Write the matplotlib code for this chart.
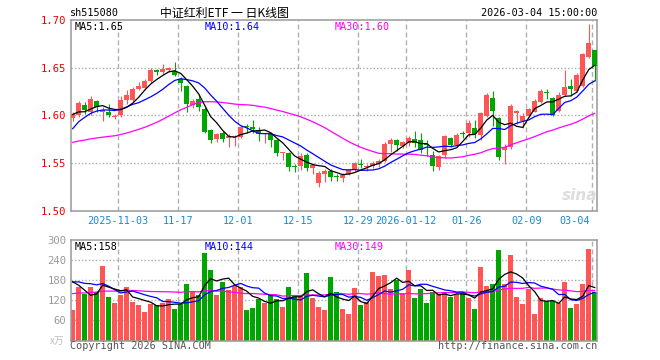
import matplotlib
matplotlib.use('Agg')
import matplotlib.pyplot as plt
import numpy as np

# ---------------- data ----------------
tick_labels = ['2025-11-03', '11-17', '12-01', '12-15', '12-29', '2026-01-12', '01-26', '02-09', '03-04']
tick_index = [8, 18, 28, 38, 48, 56, 66, 76, 87]

opens = [1.597, 1.600, 1.611, 1.603, 1.615, 1.603, 1.604, 1.598, 1.600, 1.616,
         1.616, 1.628, 1.629, 1.636, 1.648, 1.645, 1.6475, 1.647, 1.638, 1.631,
         1.611, 1.617, 1.607, 1.585, 1.575, 1.581, 1.576, 1.577, 1.577, 1.589,
         1.588, 1.585, 1.580, 1.580, 1.574, 1.560, 1.560, 1.547, 1.547, 1.558,
         1.545, 1.529, 1.539, 1.542, 1.536, 1.534, 1.539, 1.543, 1.549, 1.546,
         1.547, 1.549, 1.552, 1.570, 1.574, 1.568, 1.571, 1.575, 1.574, 1.570,
         1.558, 1.546, 1.558, 1.576, 1.569, 1.581, 1.581, 1.587, 1.579, 1.599,
         1.618, 1.597, 1.564, 1.567, 1.602, 1.594, 1.599, 1.604, 1.614, 1.6245,
         1.618, 1.605, 1.621, 1.631, 1.626, 1.631, 1.661, 1.669]
highs = [1.603, 1.615, 1.614, 1.620, 1.616, 1.609, 1.612, 1.601, 1.620, 1.627,
         1.630, 1.635, 1.638, 1.650, 1.649, 1.6535, 1.651, 1.656, 1.640, 1.632,
         1.617, 1.622, 1.609, 1.586, 1.582, 1.584, 1.580, 1.579, 1.590, 1.591,
         1.595, 1.588, 1.582, 1.581, 1.575, 1.562, 1.562, 1.549, 1.561, 1.560,
         1.550, 1.542, 1.544, 1.544, 1.539, 1.540, 1.544, 1.551, 1.554, 1.549,
         1.552, 1.554, 1.572, 1.576, 1.575, 1.573, 1.578, 1.584, 1.582, 1.574,
         1.563, 1.558, 1.579, 1.577, 1.582, 1.584, 1.595, 1.595, 1.603, 1.623,
         1.626, 1.598, 1.570, 1.612, 1.606, 1.602, 1.608, 1.617, 1.628, 1.628,
         1.619, 1.625, 1.648, 1.638, 1.644, 1.665, 1.696, 1.669]
lows = [1.594, 1.598, 1.601, 1.600, 1.603, 1.594, 1.598, 1.596, 1.598, 1.612,
        1.614, 1.627, 1.627, 1.634, 1.642, 1.643, 1.645, 1.641, 1.626, 1.604,
        1.608, 1.605, 1.582, 1.571, 1.572, 1.572, 1.567, 1.568, 1.576, 1.582,
        1.582, 1.5735, 1.571, 1.567, 1.557, 1.553, 1.542, 1.541, 1.543, 1.542,
        1.538, 1.525, 1.530, 1.531, 1.531, 1.530, 1.537, 1.542, 1.545, 1.542,
        1.545, 1.546, 1.551, 1.562, 1.563, 1.566, 1.568, 1.567, 1.561, 1.557,
        1.542, 1.543, 1.555, 1.567, 1.568, 1.576, 1.577, 1.576, 1.574, 1.598,
        1.589, 1.553, 1.549, 1.565, 1.591, 1.587, 1.598, 1.603, 1.613, 1.617,
        1.599, 1.604, 1.620, 1.620, 1.625, 1.630, 1.660, 1.636]
closes = [1.601, 1.613, 1.606, 1.617, 1.609, 1.606, 1.600, 1.599, 1.616, 1.621,
          1.628, 1.631, 1.636, 1.648, 1.645, 1.649, 1.650, 1.642, 1.634, 1.612,
          1.615, 1.609, 1.583, 1.574, 1.580, 1.575, 1.578, 1.578, 1.588, 1.588,
          1.586, 1.580, 1.581, 1.574, 1.560, 1.561, 1.546, 1.546, 1.557, 1.545,
          1.548, 1.540, 1.542, 1.535, 1.535, 1.537, 1.543, 1.550, 1.548, 1.547,
          1.550, 1.552, 1.570, 1.574, 1.569, 1.572, 1.576, 1.571, 1.564, 1.569,
          1.547, 1.557, 1.578, 1.569, 1.579, 1.580, 1.592, 1.580, 1.602, 1.621,
          1.605, 1.556, 1.567, 1.610, 1.6045, 1.599, 1.607, 1.615, 1.626, 1.623,
          1.600, 1.621, 1.630, 1.628, 1.642, 1.664, 1.676, 1.652]
volumes = [90, 160, 140, 160, 145, 222, 129, 112, 135, 159,
           114, 105, 84, 110, 105, 112, 123, 93, 110, 168,
           145, 137, 261, 210, 135, 174, 150, 162, 161, 90,
           96, 124, 112, 135, 124, 99, 159, 135, 135, 201,
           126, 100, 90, 189, 145, 94, 79, 157, 106, 115,
           205, 193, 196, 154, 182, 142, 211, 127, 155, 112,
           145, 140, 142, 130, 140, 142, 127, 94, 219, 162,
           168, 270, 168, 256, 130, 108, 155, 79, 126, 117,
           119, 113, 174, 97, 108, 168, 272, 145]

# closes / volumes before the visible window (implied by the moving averages)
prior_closes = [1.570, 1.575, 1.580, 1.582, 1.580, 1.577, 1.579, 1.575,
                1.575, 1.572, 1.570, 1.574, 1.571,
                1.565, 1.556, 1.548, 1.540, 1.536,
                1.535, 1.530,
                1.540, 1.560, 1.575, 1.585, 1.595, 1.600, 1.605, 1.603, 1.596]
prior_volumes = [110, 130, 120, 105, 140, 125, 115, 135, 100, 120,
                 130, 118, 142, 110, 125, 128, 115, 132, 120, 130,
                 160, 185, 170, 180, 180, 210, 215, 235, 125]

# ---------------- helpers ----------------
W, H = 660, 360
def fx(px):
    return px / W
def fy(py):
    return 1 - py / H

MONO = 'DejaVu Sans Mono'
RED = '#ff5555'
GREEN = '#00a600'
GRID = '#aaaaaa'

def ma(series, prior, k):
    full = np.array(prior + series, dtype=float)
    out = np.convolve(full, np.ones(k) / k, mode='full')[k - 1:len(full)]
    return out[-len(series):]

n = len(closes)
x = np.arange(n)
o = np.array(opens); c = np.array(closes); h = np.array(highs); l = np.array(lows)
up = c >= o
cols = [RED if u else GREEN for u in up]

ma5 = ma(closes, prior_closes, 5)
ma10 = ma(closes, prior_closes, 10)
ma30 = ma(closes, prior_closes, 30)
vma5 = ma(volumes, prior_volumes, 5)
vma10 = ma(volumes, prior_volumes, 10)
vma30 = ma(volumes, prior_volumes, 30)

fig = plt.figure(figsize=(6.6, 3.6), dpi=100)
left_px, right_px = 71, 597.3
ax = fig.add_axes([fx(left_px), fy(210.7), (right_px - left_px) / W, (210.7 - 20) / H])
axv = fig.add_axes([fx(left_px), fy(340.5), (right_px - left_px) / W, (340.5 - 240) / H])

x0 = -0.28
x1 = 87.43
for a in (ax, axv):
    a.set_xlim(x0, x1)
    a.set_xticks([])
    for s in a.spines.values():
        s.set_color('#999999')
        s.set_linewidth(1.1)
    for ti in tick_index:
        a.axvline(ti - 0.4, color='#b0b0b0', lw=1.0, ls=(0, (3.5, 2.2)), zorder=0)

# ---- price panel ----
ax.set_ylim(1.50, 1.70)
for yv in (1.55, 1.60, 1.65):
    ax.axhline(yv, color=GRID, lw=1.0, ls=(0, (1, 1.5)), zorder=0)
ax.vlines(x, l, h, colors=cols, lw=0.8, zorder=2)
body_b = np.minimum(o, c)
body_h = np.maximum(np.abs(c - o), 0.0011)
ax.bar(x, body_h, bottom=body_b, width=0.8, color=cols, lw=0, zorder=3)
ax.plot(x, ma30, color='#ff00ff', lw=0.9, zorder=4)
ax.plot(x, ma10, color='#0000ff', lw=0.9, zorder=4)
ax.plot(x, ma5, color='black', lw=0.9, zorder=4)
ax.set_yticks([1.50, 1.55, 1.60, 1.65, 1.70])
ax.set_yticklabels(['1.50', '1.55', '1.60', '1.65', '1.70'])
ax.tick_params(axis='y', length=0, pad=3.2, labelcolor='#ee0000', labelsize=7.6)
for t in ax.get_yticklabels():
    t.set_family(MONO)

# ---- volume panel ----
axv.set_ylim(0, 300)
for yv in (60, 120, 180, 240):
    axv.axhline(yv, color=GRID, lw=1.0, ls=(0, (1, 1.5)), zorder=0)
axv.bar(x, volumes, width=0.8, color=cols, lw=0, zorder=2)
axv.plot(x, vma30, color='#ff00ff', lw=0.9, zorder=4)
axv.plot(x, vma10, color='#0000ff', lw=0.9, zorder=4)
axv.plot(x, vma5, color='black', lw=0.9, zorder=4)
axv.set_yticks([60, 120, 180, 240, 300])
axv.set_yticklabels(['60', '120', '180', '240', '300'])
axv.tick_params(axis='y', length=0, pad=3.2, labelcolor='#999999', labelsize=7.6)
for t in axv.get_yticklabels():
    t.set_family(MONO)

# ---- x tick labels ----
def data_to_px(xi):
    return left_px + (xi - x0) / (x1 - x0) * (right_px - left_px)
for lab, ti in zip(tick_labels, tick_index):
    px = data_to_px(ti - 0.4)
    if ti == tick_index[-1]:
        fig.text(fx(px - 2), fy(221), lab, ha='right', va='center', family=MONO,
                 fontsize=7.3, color='#1a88d4')
    else:
        fig.text(fx(px), fy(221), lab, ha='center', va='center', family=MONO,
                 fontsize=7.3, color='#1a88d4')

# ---- header texts ----
fig.text(fx(70), fy(13), 'sh515080', ha='left', va='center', family=MONO, fontsize=7.3, color='black')
fig.text(fx(224), fy(13), '中证红利ETF 一 日K线图', ha='center', va='center',
         family=['Noto Sans CJK SC', 'DejaVu Sans'], fontsize=8.6, color='black')
fig.text(fx(597), fy(13), '2026-03-04 15:00:00', ha='right', va='center', family=MONO,
         fontsize=7.3, color='black')

# legends
fig.text(fx(75), fy(26.5), 'MA5:%.2f' % ma5[-1], ha='left', va='center', family=MONO, fontsize=7.3, color='black')
fig.text(fx(205), fy(26.5), 'MA10:%.2f' % ma10[-1], ha='left', va='center', family=MONO, fontsize=7.3, color='#0000ff')
fig.text(fx(335), fy(26.5), 'MA30:%.2f' % ma30[-1], ha='left', va='center', family=MONO, fontsize=7.3, color='#ff00ff')
fig.text(fx(75), fy(247), 'MA5:%d' % round(vma5[-1]), ha='left', va='center', family=MONO, fontsize=7.3, color='black')
fig.text(fx(205), fy(247), 'MA10:%d' % round(vma10[-1]), ha='left', va='center', family=MONO, fontsize=7.3, color='#0000ff')
fig.text(fx(335), fy(247), 'MA30:%d' % round(vma30[-1]), ha='left', va='center', family=MONO, fontsize=7.3, color='#ff00ff')

# volume unit and footers
fig.text(fx(64), fy(341), 'x万', ha='right', va='center', family=['Noto Sans CJK SC', 'DejaVu Sans'],
         fontsize=7, color='#bbbbbb', style='italic')
fig.text(fx(70), fy(346), 'Copyright 2026 SINA.COM', ha='left', va='center', family=MONO,
         fontsize=7.3, color='#555555')
fig.text(fx(597), fy(346), 'http://finance.sina.com.cn', ha='right', va='center', family=MONO,
         fontsize=7.3, color='#555555')

# watermark
fig.text(fx(580), fy(195), 'sina', ha='center', va='center', fontsize=11, fontweight='bold',
         style='italic', color='#dddddd', family='DejaVu Sans', zorder=0)

fig.savefig('out.png', dpi=100)
